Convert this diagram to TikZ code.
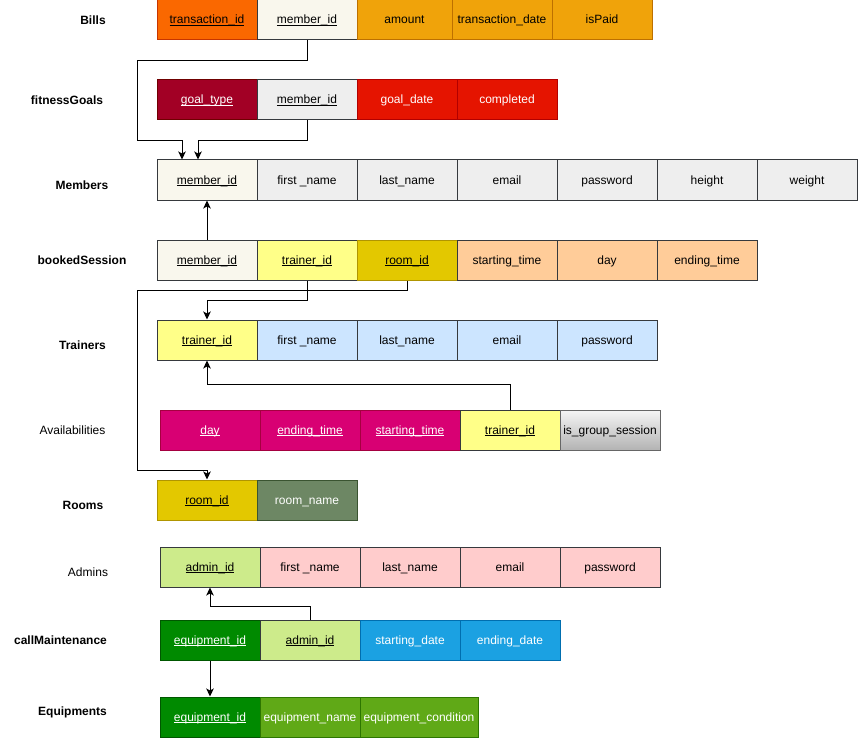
\documentclass[tikz,border=0pt]{standalone}
\usepackage{fontspec}
\setmainfont{Liberation Sans}
\usetikzlibrary{arrows.meta}
\definecolor{fOrange}{HTML}{FA6800}\definecolor{sOrange}{HTML}{C73500}
\definecolor{fAmber}{HTML}{F0A30A}\definecolor{sAmber}{HTML}{BD7000}
\definecolor{fCream}{HTML}{F9F7ED}\definecolor{sDark}{HTML}{36393D}
\definecolor{fGrey}{HTML}{EEEEEE}
\definecolor{fCrimson}{HTML}{A20025}\definecolor{sCrimson}{HTML}{6F0000}
\definecolor{fRed}{HTML}{E51400}\definecolor{sRed}{HTML}{B20000}
\definecolor{fYellow}{HTML}{FFFF88}
\definecolor{fOlive}{HTML}{E3C800}\definecolor{sOlive}{HTML}{B09500}
\definecolor{fPeach}{HTML}{FFCC99}
\definecolor{fBlue}{HTML}{CCE5FF}
\definecolor{fMagenta}{HTML}{D80073}\definecolor{sMagenta}{HTML}{A50040}
\definecolor{gTop}{HTML}{F5F5F5}\definecolor{gBot}{HTML}{B3B3B3}\definecolor{sGrad}{HTML}{666666}
\definecolor{fSage}{HTML}{6D8764}\definecolor{sSage}{HTML}{3A5431}
\definecolor{fLime}{HTML}{CDEB8B}
\definecolor{fPink}{HTML}{FFCCCC}
\definecolor{fGreen}{HTML}{008A00}\definecolor{sGreen}{HTML}{005700}
\definecolor{fCyan}{HTML}{1BA1E2}\definecolor{sCyan}{HTML}{006EAF}
\definecolor{fLeaf}{HTML}{60A917}\definecolor{sLeaf}{HTML}{2D7600}
\newcommand{\keyu}[1]{\setbox0\hbox{#1}\rlap{\rule[-2pt]{\wd0}{0.9pt}}\box0}
\tikzset{
  cell/.style={draw, line width=1pt, minimum width=100pt, minimum height=40pt, inner sep=0pt, text height=9pt, text depth=1pt, font=\fontsize{12}{14}\selectfont, text=black},
  lbl/.style={font=\fontsize{12}{14}\selectfont\bfseries, text=black, inner sep=0pt},
  lblr/.style={font=\fontsize{12}{14}\selectfont, text=black, inner sep=0pt},
  conn/.style={line width=1pt, -{Stealth[length=8pt,width=7.5pt,inset=2pt]}},
  orangec/.style={cell, fill=fOrange, draw=sOrange},
  amberc/.style={cell, fill=fAmber, draw=sAmber},
  creamc/.style={cell, fill=fCream, draw=sDark},
  greyc/.style={cell, fill=fGrey, draw=sDark},
  crimsonc/.style={cell, fill=fCrimson, draw=sCrimson, text=white},
  redc/.style={cell, fill=fRed, draw=sRed, text=white},
  yellowc/.style={cell, fill=fYellow, draw=sDark},
  olivec/.style={cell, fill=fOlive, draw=sOlive},
  peachc/.style={cell, fill=fPeach, draw=sDark},
  bluec/.style={cell, fill=fBlue, draw=sDark},
  magentac/.style={cell, fill=fMagenta, draw=sMagenta, text=white},
  gradc/.style={cell, top color=gTop, bottom color=gBot, draw=sGrad},
  sagec/.style={cell, fill=fSage, draw=sSage, text=white},
  limec/.style={cell, fill=fLime, draw=sDark},
  pinkc/.style={cell, fill=fPink, draw=sDark},
  greenc/.style={cell, fill=fGreen, draw=sGreen, text=white},
  cyanc/.style={cell, fill=fCyan, draw=sCyan, text=white},
  leafc/.style={cell, fill=fLeaf, draw=sLeaf, text=white},
}
\begin{document}
\begin{tikzpicture}[x=1pt,y=-1pt]
\useasboundingbox (0,0) rectangle (858,738);
% Bills
\node[lbl] (lBills) at (93,20) {Bills};
\node[orangec] (b1) at (207,20) {\keyu{transaction\_id}};
\node[creamc] (b2) at (307,20) {\keyu{member\_id}};
\node[amberc, minimum width=95pt] (b3) at (404.5,20) {amount};
\node[amberc] (b4) at (502,20) {transaction\_date};
\node[amberc] (b5) at (602,20) {isPaid};
% fitnessGoals
\node[lbl] (lGoals) at (67,100) {fitnessGoals};
\node[crimsonc] (g1) at (207,100) {\keyu{goal\_type}};
\node[greyc] (g2) at (307,100) {\keyu{member\_id}};
\node[redc] (g3) at (407,100) {goal\_date};
\node[redc] (g4) at (507,100) {completed};
% Members
\node[lbl] (lMembers) at (82,185) {Members};
\node[creamc] (m1) at (207,180) {\keyu{member\_id}};
\node[greyc] (m2) at (307,180) {first \_name};
\node[greyc] (m3) at (407,180) {last\_name};
\node[greyc] (m4) at (507,180) {email};
\node[greyc] (m5) at (607,180) {password};
\node[greyc] (m6) at (707,180) {height};
\node[greyc] (m7) at (807,180) {weight};
% bookedSession
\node[lbl] (lBooked) at (82,260.5) {bookedSession};
\node[creamc] (s1) at (207,260) {\keyu{member\_id}};
\node[yellowc] (s2) at (307,260) {\keyu{trainer\_id}};
\node[olivec] (s3) at (407,260) {\keyu{room\_id}};
\node[peachc] (s4) at (507,260) {starting\_time};
\node[peachc] (s5) at (607,260) {day};
\node[peachc] (s6) at (707,260) {ending\_time};
% Trainers
\node[lbl] (lTrainers) at (82.5,345.5) {Trainers};
\node[yellowc] (t1) at (207,340) {\keyu{trainer\_id}};
\node[bluec] (t2) at (307,340) {first \_name};
\node[bluec] (t3) at (407,340) {last\_name};
\node[bluec] (t4) at (507,340) {email};
\node[bluec] (t5) at (607,340) {password};
% Availabilities
\node[lblr] (lAvail) at (72.5,430.5) {Availabilities};
\node[magentac] (a1) at (210,430) {\keyu{day}};
\node[magentac] (a2) at (310,430) {\keyu{ending\_time}};
\node[magentac] (a3) at (410,430) {\keyu{starting\_time}};
\node[yellowc] (a4) at (510,430) {\keyu{trainer\_id}};
\node[gradc] (a5) at (610,430) {is\_group\_session};
% Rooms
\node[lbl] (lRooms) at (83,505.5) {Rooms};
\node[olivec] (r1) at (207,500) {\keyu{room\_id}};
\node[sagec] (r2) at (307,500) {room\_name};
% Admins
\node[lblr] (lAdmins) at (88,572.5) {Admins};
\node[limec] (d1) at (210,567) {\keyu{admin\_id}};
\node[pinkc] (d2) at (310,567) {first \_name};
\node[pinkc] (d3) at (410,567) {last\_name};
\node[pinkc] (d4) at (510,567) {email};
\node[pinkc] (d5) at (610,567) {password};
% callMaintenance
\node[lbl] (lCall) at (60.5,640.5) {callMaintenance};
\node[greenc] (c1) at (210,640) {\keyu{equipment\_id}};
\node[limec] (c2) at (310,640) {\keyu{admin\_id}};
\node[cyanc] (c3) at (410,640) {starting\_date};
\node[cyanc] (c4) at (510,640) {ending\_date};
% Equipments
\node[lbl] (lEquip) at (72.5,712.5) {Equipments};
\node[greenc] (e1) at (210,717) {\keyu{equipment\_id}};
\node[leafc] (e2) at (310,717) {equipment\_name};
\node[leafc, minimum width=118pt] (e3) at (419,717) {equipment\_condition};
% connectors
\draw[conn] (b2.south) -- ++(0,20) -- ++(-170,0) -- ++(0,80) -| ([xshift=-25pt]m1.north);
\draw[conn] (g2.south) -- ++(0,20) -| ([xshift=-9pt]m1.north);
\draw[conn] (s1.north) -- (m1.south);
\draw[conn] (s2.south) -- ++(0,20) -| (t1.north);
\draw[conn] (s3.south) -- ++(0,10) -- ++(-270,0) -- ++(0,180) -| (r1.north);
\draw[conn] (a4.north) -- ++(0,-25) -| (t1.south);
\draw[conn] (c2.north) -- ++(0,-13) -| (d1.south);
\draw[conn] (c1.south) -- (e1.north);
\end{tikzpicture}
\end{document}
